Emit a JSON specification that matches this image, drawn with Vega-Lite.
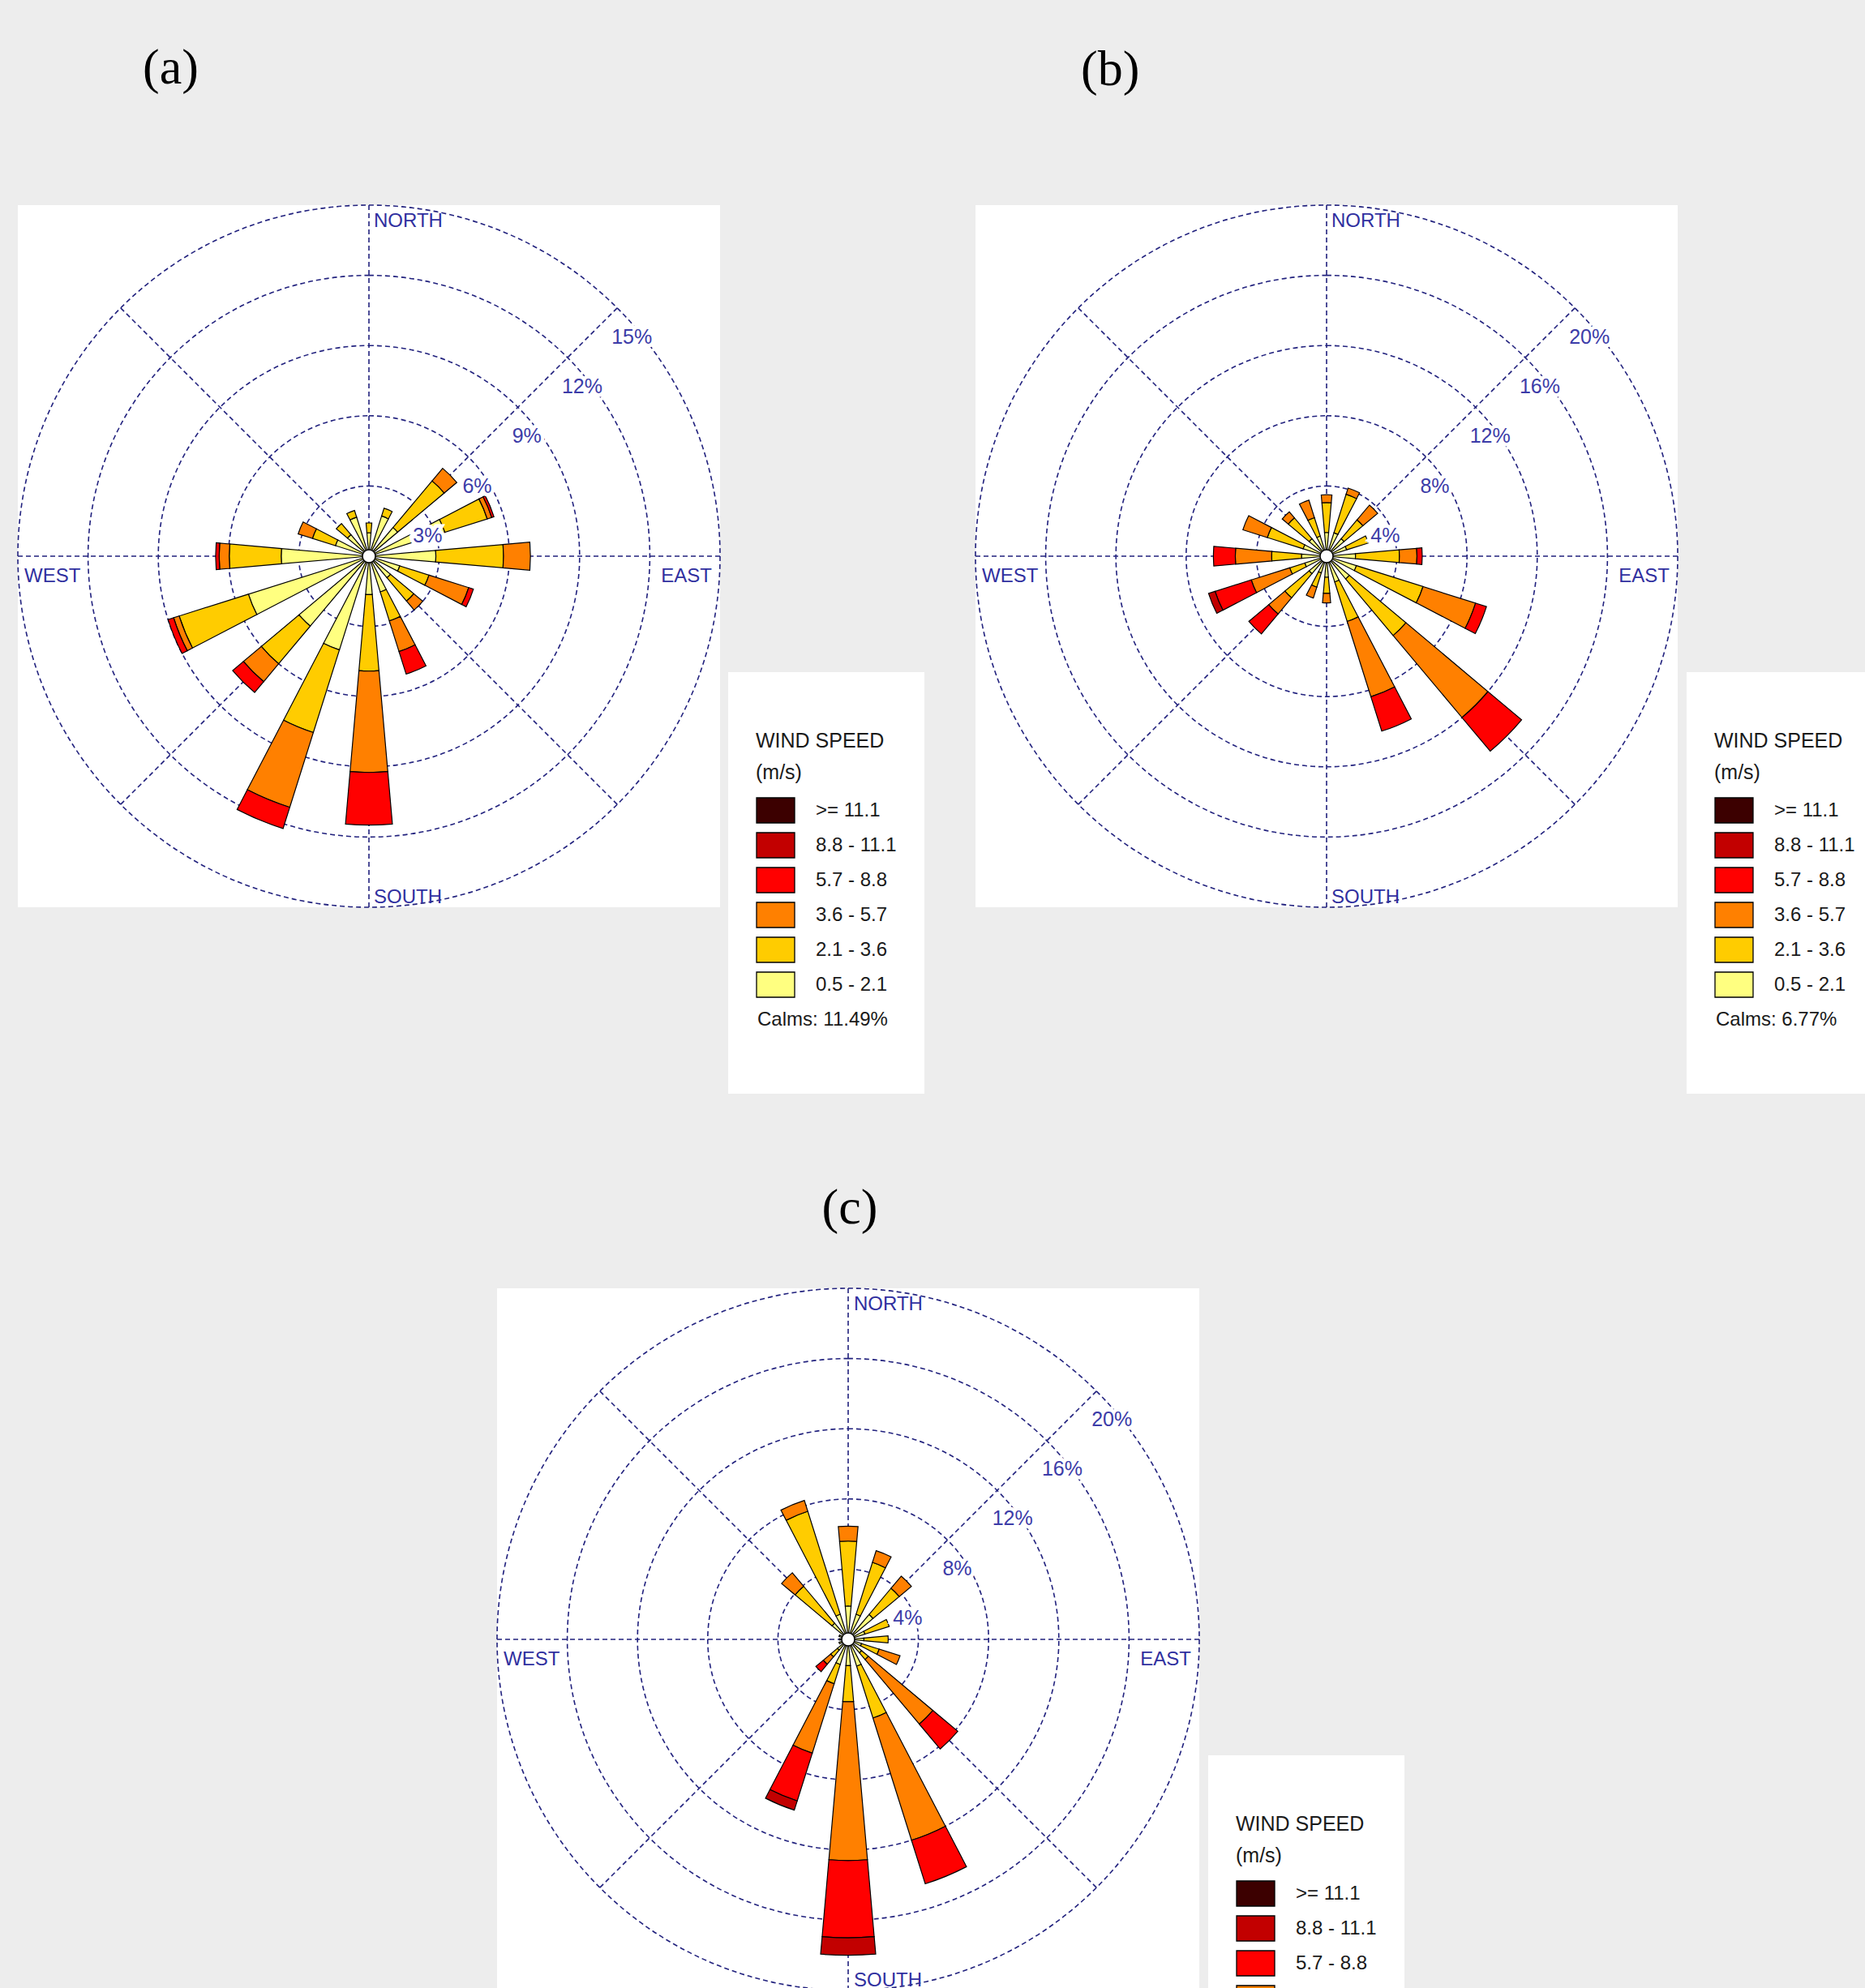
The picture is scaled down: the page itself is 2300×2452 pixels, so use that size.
{
"$schema": "https://vega.github.io/schema/vega-lite/v6.json",
"background": "#ededed",
"padding": {"left": 18, "top": 52, "right": 4, "bottom": 4},
"bounds": "flush",
"spacing": 1336,
"datasets": {
"spokes": [{"d":0},{"d":45},{"d":90},{"d":135},{"d":180},{"d":225},{"d":270},{"d":315}],
"rings": [
{"p":"a","ring":3,"lab":"3%"},{"p":"a","ring":6,"lab":"6%"},{"p":"a","ring":9,"lab":"9%"},{"p":"a","ring":12,"lab":"12%"},{"p":"a","ring":15,"lab":"15%"},
{"p":"b","ring":4,"lab":"4%"},{"p":"b","ring":8,"lab":"8%"},{"p":"b","ring":12,"lab":"12%"},{"p":"b","ring":16,"lab":"16%"},{"p":"b","ring":20,"lab":"20%"},
{"p":"c","ring":4,"lab":"4%"},{"p":"c","ring":8,"lab":"8%"},{"p":"c","ring":12,"lab":"12%"},{"p":"c","ring":16,"lab":"16%"},{"p":"c","ring":20,"lab":"20%"}],
"bars": [
{"p":"a","d":0,"s":"0.5 - 2.1","lo":0,"hi":1.0},{"p":"a","d":0,"s":"2.1 - 3.6","lo":1.0,"hi":1.42},
{"p":"a","d":22.5,"s":"0.5 - 2.1","lo":0,"hi":1.8},{"p":"a","d":22.5,"s":"2.1 - 3.6","lo":1.8,"hi":2.15},
{"p":"a","d":45,"s":"0.5 - 2.1","lo":0,"hi":1.6},{"p":"a","d":45,"s":"2.1 - 3.6","lo":1.6,"hi":4.2},{"p":"a","d":45,"s":"3.6 - 5.7","lo":4.2,"hi":4.9},
{"p":"a","d":67.5,"s":"0.5 - 2.1","lo":0,"hi":3.4},{"p":"a","d":67.5,"s":"2.1 - 3.6","lo":3.4,"hi":5.3},{"p":"a","d":67.5,"s":"3.6 - 5.7","lo":5.3,"hi":5.5},{"p":"a","d":67.5,"s":"5.7 - 8.8","lo":5.5,"hi":5.6},
{"p":"a","d":90,"s":"0.5 - 2.1","lo":0,"hi":2.86},{"p":"a","d":90,"s":"2.1 - 3.6","lo":2.86,"hi":5.75},{"p":"a","d":90,"s":"3.6 - 5.7","lo":5.75,"hi":6.9},
{"p":"a","d":112.5,"s":"0.5 - 2.1","lo":0,"hi":1.38},{"p":"a","d":112.5,"s":"2.1 - 3.6","lo":1.38,"hi":2.69},{"p":"a","d":112.5,"s":"3.6 - 5.7","lo":2.69,"hi":4.47},{"p":"a","d":112.5,"s":"5.7 - 8.8","lo":4.47,"hi":4.68},
{"p":"a","d":135,"s":"0.5 - 2.1","lo":0,"hi":1.2},{"p":"a","d":135,"s":"2.1 - 3.6","lo":1.2,"hi":2.5},{"p":"a","d":135,"s":"3.6 - 5.7","lo":2.5,"hi":3.0},
{"p":"a","d":157.5,"s":"0.5 - 2.1","lo":0,"hi":1.6},{"p":"a","d":157.5,"s":"2.1 - 3.6","lo":1.6,"hi":2.9},{"p":"a","d":157.5,"s":"3.6 - 5.7","lo":2.9,"hi":4.27},{"p":"a","d":157.5,"s":"5.7 - 8.8","lo":4.27,"hi":5.28},
{"p":"a","d":180,"s":"0.5 - 2.1","lo":0,"hi":1.64},{"p":"a","d":180,"s":"2.1 - 3.6","lo":1.64,"hi":4.91},{"p":"a","d":180,"s":"3.6 - 5.7","lo":4.91,"hi":9.24},{"p":"a","d":180,"s":"5.7 - 8.8","lo":9.24,"hi":11.49},
{"p":"a","d":202.5,"s":"0.5 - 2.1","lo":0,"hi":4.2},{"p":"a","d":202.5,"s":"2.1 - 3.6","lo":4.2,"hi":7.9},{"p":"a","d":202.5,"s":"3.6 - 5.7","lo":7.9,"hi":11.25},{"p":"a","d":202.5,"s":"5.7 - 8.8","lo":11.25,"hi":12.2},
{"p":"a","d":225,"s":"0.5 - 2.1","lo":0,"hi":3.9},{"p":"a","d":225,"s":"2.1 - 3.6","lo":3.9,"hi":6.0},{"p":"a","d":225,"s":"3.6 - 5.7","lo":6.0,"hi":7.0},{"p":"a","d":225,"s":"5.7 - 8.8","lo":7.0,"hi":7.6},
{"p":"a","d":247.5,"s":"0.5 - 2.1","lo":0,"hi":5.4},{"p":"a","d":247.5,"s":"2.1 - 3.6","lo":5.4,"hi":8.5},{"p":"a","d":247.5,"s":"3.6 - 5.7","lo":8.5,"hi":8.75},{"p":"a","d":247.5,"s":"5.7 - 8.8","lo":8.75,"hi":9.0},
{"p":"a","d":270,"s":"0.5 - 2.1","lo":0,"hi":3.75},{"p":"a","d":270,"s":"2.1 - 3.6","lo":3.75,"hi":5.97},{"p":"a","d":270,"s":"3.6 - 5.7","lo":5.97,"hi":6.4},{"p":"a","d":270,"s":"5.7 - 8.8","lo":6.4,"hi":6.55},
{"p":"a","d":292.5,"s":"0.5 - 2.1","lo":0,"hi":1.5},{"p":"a","d":292.5,"s":"2.1 - 3.6","lo":1.5,"hi":2.53},{"p":"a","d":292.5,"s":"3.6 - 5.7","lo":2.53,"hi":3.17},
{"p":"a","d":315,"s":"0.5 - 2.1","lo":0,"hi":1.2},{"p":"a","d":315,"s":"2.1 - 3.6","lo":1.2,"hi":1.82},
{"p":"a","d":337.5,"s":"0.5 - 2.1","lo":0,"hi":1.75},{"p":"a","d":337.5,"s":"2.1 - 3.6","lo":1.75,"hi":2.05},
{"p":"b","d":0,"s":"0.5 - 2.1","lo":0,"hi":1.35},{"p":"b","d":0,"s":"2.1 - 3.6","lo":1.35,"hi":3.05},{"p":"b","d":0,"s":"3.6 - 5.7","lo":3.05,"hi":3.5},
{"p":"b","d":22.5,"s":"0.5 - 2.1","lo":0,"hi":1.4},{"p":"b","d":22.5,"s":"2.1 - 3.6","lo":1.4,"hi":3.7},{"p":"b","d":22.5,"s":"3.6 - 5.7","lo":3.7,"hi":4.07},
{"p":"b","d":45,"s":"0.5 - 2.1","lo":0,"hi":1.3},{"p":"b","d":45,"s":"2.1 - 3.6","lo":1.3,"hi":2.7},{"p":"b","d":45,"s":"3.6 - 5.7","lo":2.7,"hi":3.8},
{"p":"b","d":67.5,"s":"0.5 - 2.1","lo":0,"hi":1.2},{"p":"b","d":67.5,"s":"2.1 - 3.6","lo":1.2,"hi":2.5},
{"p":"b","d":90,"s":"0.5 - 2.1","lo":0,"hi":1.65},{"p":"b","d":90,"s":"2.1 - 3.6","lo":1.65,"hi":4.15},{"p":"b","d":90,"s":"3.6 - 5.7","lo":4.15,"hi":5.15},{"p":"b","d":90,"s":"5.7 - 8.8","lo":5.15,"hi":5.45},
{"p":"b","d":112.5,"s":"0.5 - 2.1","lo":0,"hi":1.78},{"p":"b","d":112.5,"s":"2.1 - 3.6","lo":1.78,"hi":5.76},{"p":"b","d":112.5,"s":"3.6 - 5.7","lo":5.76,"hi":8.9},{"p":"b","d":112.5,"s":"5.7 - 8.8","lo":8.9,"hi":9.55},
{"p":"b","d":135,"s":"0.5 - 2.1","lo":0,"hi":1.69},{"p":"b","d":135,"s":"2.1 - 3.6","lo":1.69,"hi":5.9},{"p":"b","d":135,"s":"3.6 - 5.7","lo":5.9,"hi":12.0},{"p":"b","d":135,"s":"5.7 - 8.8","lo":12.0,"hi":14.5},
{"p":"b","d":157.5,"s":"0.5 - 2.1","lo":0,"hi":1.54},{"p":"b","d":157.5,"s":"2.1 - 3.6","lo":1.54,"hi":3.9},{"p":"b","d":157.5,"s":"3.6 - 5.7","lo":3.9,"hi":8.4},{"p":"b","d":157.5,"s":"5.7 - 8.8","lo":8.4,"hi":10.45},
{"p":"b","d":180,"s":"0.5 - 2.1","lo":0,"hi":1.2},{"p":"b","d":180,"s":"2.1 - 3.6","lo":1.2,"hi":2.12},{"p":"b","d":180,"s":"3.6 - 5.7","lo":2.12,"hi":2.66},
{"p":"b","d":202.5,"s":"0.5 - 2.1","lo":0,"hi":1.0},{"p":"b","d":202.5,"s":"2.1 - 3.6","lo":1.0,"hi":1.85},{"p":"b","d":202.5,"s":"3.6 - 5.7","lo":1.85,"hi":2.5},
{"p":"b","d":225,"s":"0.5 - 2.1","lo":0,"hi":1.3},{"p":"b","d":225,"s":"2.1 - 3.6","lo":1.3,"hi":3.1},{"p":"b","d":225,"s":"3.6 - 5.7","lo":3.1,"hi":4.3},{"p":"b","d":225,"s":"5.7 - 8.8","lo":4.3,"hi":5.78},
{"p":"b","d":247.5,"s":"0.5 - 2.1","lo":0,"hi":1.3},{"p":"b","d":247.5,"s":"2.1 - 3.6","lo":1.3,"hi":2.2},{"p":"b","d":247.5,"s":"3.6 - 5.7","lo":2.2,"hi":4.5},{"p":"b","d":247.5,"s":"5.7 - 8.8","lo":4.5,"hi":6.66},{"p":"b","d":247.5,"s":"8.8 - 11.1","lo":6.66,"hi":7.05},
{"p":"b","d":270,"s":"0.5 - 2.1","lo":0,"hi":1.43},{"p":"b","d":270,"s":"2.1 - 3.6","lo":1.43,"hi":3.13},{"p":"b","d":270,"s":"3.6 - 5.7","lo":3.13,"hi":5.2},{"p":"b","d":270,"s":"5.7 - 8.8","lo":5.2,"hi":6.45},
{"p":"b","d":292.5,"s":"0.5 - 2.1","lo":0,"hi":1.4},{"p":"b","d":292.5,"s":"2.1 - 3.6","lo":1.4,"hi":3.54},{"p":"b","d":292.5,"s":"3.6 - 5.7","lo":3.54,"hi":5.0},
{"p":"b","d":315,"s":"0.5 - 2.1","lo":0,"hi":1.3},{"p":"b","d":315,"s":"2.1 - 3.6","lo":1.3,"hi":2.85},{"p":"b","d":315,"s":"3.6 - 5.7","lo":2.85,"hi":3.3},
{"p":"b","d":337.5,"s":"0.5 - 2.1","lo":0,"hi":1.2},{"p":"b","d":337.5,"s":"2.1 - 3.6","lo":1.2,"hi":2.3},{"p":"b","d":337.5,"s":"3.6 - 5.7","lo":2.3,"hi":3.35},
{"p":"c","d":0,"s":"0.5 - 2.1","lo":0,"hi":1.9},{"p":"c","d":0,"s":"2.1 - 3.6","lo":1.9,"hi":5.6},{"p":"c","d":0,"s":"3.6 - 5.7","lo":5.6,"hi":6.45},
{"p":"c","d":22.5,"s":"0.5 - 2.1","lo":0,"hi":1.5},{"p":"c","d":22.5,"s":"2.1 - 3.6","lo":1.5,"hi":4.6},{"p":"c","d":22.5,"s":"3.6 - 5.7","lo":4.6,"hi":5.3},
{"p":"c","d":45,"s":"0.5 - 2.1","lo":0,"hi":1.85},{"p":"c","d":45,"s":"2.1 - 3.6","lo":1.85,"hi":3.8},{"p":"c","d":45,"s":"3.6 - 5.7","lo":3.8,"hi":4.7},
{"p":"c","d":67.5,"s":"0.5 - 2.1","lo":0,"hi":1.0},{"p":"c","d":67.5,"s":"2.1 - 3.6","lo":1.0,"hi":2.45},
{"p":"c","d":90,"s":"0.5 - 2.1","lo":0,"hi":0.9},{"p":"c","d":90,"s":"2.1 - 3.6","lo":0.9,"hi":2.28},
{"p":"c","d":112.5,"s":"0.5 - 2.1","lo":0,"hi":0.8},{"p":"c","d":112.5,"s":"2.1 - 3.6","lo":0.8,"hi":1.85},{"p":"c","d":112.5,"s":"3.6 - 5.7","lo":1.85,"hi":3.1},
{"p":"c","d":135,"s":"0.5 - 2.1","lo":0,"hi":1.0},{"p":"c","d":135,"s":"2.1 - 3.6","lo":1.0,"hi":1.5},{"p":"c","d":135,"s":"3.6 - 5.7","lo":1.5,"hi":6.3},{"p":"c","d":135,"s":"5.7 - 8.8","lo":6.3,"hi":8.15},
{"p":"c","d":157.5,"s":"0.5 - 2.1","lo":0,"hi":1.6},{"p":"c","d":157.5,"s":"2.1 - 3.6","lo":1.6,"hi":4.7},{"p":"c","d":157.5,"s":"3.6 - 5.7","lo":4.7,"hi":12.0},{"p":"c","d":157.5,"s":"5.7 - 8.8","lo":12.0,"hi":14.6},
{"p":"c","d":180,"s":"0.5 - 2.1","lo":0,"hi":1.5},{"p":"c","d":180,"s":"2.1 - 3.6","lo":1.5,"hi":3.55},{"p":"c","d":180,"s":"3.6 - 5.7","lo":3.55,"hi":12.6},{"p":"c","d":180,"s":"5.7 - 8.8","lo":12.6,"hi":17.0},{"p":"c","d":180,"s":"8.8 - 11.1","lo":17.0,"hi":18.0},
{"p":"c","d":202.5,"s":"0.5 - 2.1","lo":0,"hi":1.5},{"p":"c","d":202.5,"s":"2.1 - 3.6","lo":1.5,"hi":2.65},{"p":"c","d":202.5,"s":"3.6 - 5.7","lo":2.65,"hi":6.8},{"p":"c","d":202.5,"s":"5.7 - 8.8","lo":6.8,"hi":9.65},{"p":"c","d":202.5,"s":"8.8 - 11.1","lo":9.65,"hi":10.2},
{"p":"c","d":225,"s":"0.5 - 2.1","lo":0,"hi":0.8},{"p":"c","d":225,"s":"2.1 - 3.6","lo":0.8,"hi":1.3},{"p":"c","d":225,"s":"3.6 - 5.7","lo":1.3,"hi":1.85},{"p":"c","d":225,"s":"5.7 - 8.8","lo":1.85,"hi":2.4},
{"p":"c","d":247.5,"s":"0.5 - 2.1","lo":0,"hi":0.55},
{"p":"c","d":270,"s":"0.5 - 2.1","lo":0,"hi":0.5},
{"p":"c","d":292.5,"s":"0.5 - 2.1","lo":0,"hi":0.55},
{"p":"c","d":315,"s":"0.5 - 2.1","lo":0,"hi":1.2},{"p":"c","d":315,"s":"2.1 - 3.6","lo":1.2,"hi":3.95},{"p":"c","d":315,"s":"3.6 - 5.7","lo":3.95,"hi":4.95},
{"p":"c","d":337.5,"s":"0.5 - 2.1","lo":0,"hi":1.5},{"p":"c","d":337.5,"s":"2.1 - 3.6","lo":1.5,"hi":7.65},{"p":"c","d":337.5,"s":"3.6 - 5.7","lo":7.65,"hi":8.3}
]
},
"vconcat": [
{
"hconcat": [
{
"width": 866, "height": 866,
"view": {"fill": "white", "stroke": null},
"title": {"text": "(a)", "anchor": "start", "dx": 154, "offset": 134, "baseline": "top", "font": "Liberation Serif", "fontSize": 62, "fontWeight": "normal", "color": "#000000", "frame": "group"},
"layer": [
{"data": {"name": "rings"}, "transform": [{"filter": "datum.p == 'a'"}],
 "mark": {"type": "arc", "filled": false, "stroke": "#22227e", "strokeWidth": 1.6, "strokeDash": [6, 4]},
 "encoding": {"theta": {"value": 0}, "theta2": {"value": 6.2832}, "radius": {"field": "ring", "type": "quantitative", "stack": null, "scale": {"type": "linear", "domain": [0, 15], "range": [0, 433], "zero": true, "nice": false}}}},
{"data": {"name": "spokes"},
 "mark": {"type": "arc", "filled": false, "stroke": "#22227e", "strokeWidth": 1.6, "strokeDash": [6, 4]},
 "encoding": {"theta": {"field": "d", "type": "quantitative", "stack": null, "scale": {"type": "linear", "domain": [0, 360], "range": [0, 6.283185307], "zero": true, "nice": false}}, "theta2": {"field": "d"}, "radius": {"datum": 15, "type": "quantitative", "scale": {"type": "linear", "domain": [0, 15], "range": [0, 433], "zero": true, "nice": false}}}},
{"data": {"name": "bars"}, "transform": [{"filter": "datum.p == 'a'"}],
 "mark": {"type": "arc", "stroke": "#000000", "strokeWidth": 1.2, "thetaOffset": -0.0873, "theta2Offset": 0.0873},
 "encoding": {
  "theta": {"field": "d", "type": "quantitative", "stack": null, "scale": {"type": "linear", "domain": [0, 360], "range": [0, 6.283185307], "zero": true, "nice": false}},
  "theta2": {"field": "d"},
  "radius": {"field": "hi", "type": "quantitative", "stack": null, "scale": {"type": "linear", "domain": [0, 15], "range": [0, 433], "zero": true, "nice": false}},
  "radius2": {"field": "lo"},
  "color": {"field": "s", "type": "nominal",
   "scale": {"domain": [">= 11.1", "8.8 - 11.1", "5.7 - 8.8", "3.6 - 5.7", "2.1 - 3.6", "0.5 - 2.1", "Calms: 11.49%", " "], "range": ["#3c0000", "#c20000", "#ff0000", "#ff8000", "#ffcc00", "#ffff80", "#ffffff", "#ffffff"]},
   "legend": {"legendX": 876, "legendY": 576, "title": ["", "WIND SPEED", "(m/s)"],
    "encode": {"symbols": {"update": {"strokeOpacity": {"signal": "datum.index >= 6 ? 0 : 1"}}}, "labels": {"update": {"dx": {"signal": "datum.index == 6 ? -72 : 0"}}}}}}
 }},
{"data": {"values": [{}]}, "mark": {"type": "arc", "fill": "#ffffff", "stroke": "#000000", "strokeWidth": 1.5},
 "encoding": {"theta": {"value": 0}, "theta2": {"value": 6.2832}, "radius": {"value": 8}}},
{"data": {"name": "rings"}, "transform": [{"filter": "datum.p == 'a'"}],
 "mark": {"type": "text", "align": "left", "baseline": "middle", "dx": -7, "dy": 36, "font": "Liberation Sans", "fontSize": 25, "color": "#ffffff", "stroke": "#ffffff", "strokeWidth": 9},
 "encoding": {"theta": {"datum": 45, "type": "quantitative", "scale": {"type": "linear", "domain": [0, 360], "range": [0, 6.283185307], "zero": true, "nice": false}}, "radius": {"field": "ring", "type": "quantitative", "stack": null, "scale": {"type": "linear", "domain": [0, 15], "range": [0, 433], "zero": true, "nice": false}}, "text": {"field": "lab"}}},
{"data": {"name": "rings"}, "transform": [{"filter": "datum.p == 'a'"}],
 "mark": {"type": "text", "align": "left", "baseline": "middle", "dx": -7, "dy": 36, "font": "Liberation Sans", "fontSize": 25, "color": "#3c3ca8"},
 "encoding": {"theta": {"datum": 45, "type": "quantitative", "scale": {"type": "linear", "domain": [0, 360], "range": [0, 6.283185307], "zero": true, "nice": false}}, "radius": {"field": "ring", "type": "quantitative", "stack": null, "scale": {"type": "linear", "domain": [0, 15], "range": [0, 433], "zero": true, "nice": false}}, "text": {"field": "lab"}}},
{"data": {"values": [{}]},
 "mark": {"type": "text", "align": "left", "baseline": "top", "dx": 6, "dy": 8, "font": "Liberation Sans", "fontSize": 24, "color": "#3030a0"},
 "encoding": {"theta": {"datum": 0, "type": "quantitative"}, "radius": {"datum": 15, "type": "quantitative"}, "text": {"value": "NORTH"}}},
{"data": {"values": [{}]},
 "mark": {"type": "text", "align": "left", "baseline": "alphabetic", "dx": 6, "dy": -5, "font": "Liberation Sans", "fontSize": 24, "color": "#3030a0"},
 "encoding": {"theta": {"datum": 180, "type": "quantitative"}, "radius": {"datum": 15, "type": "quantitative"}, "text": {"value": "SOUTH"}}},
{"data": {"values": [{}]},
 "mark": {"type": "text", "align": "left", "baseline": "alphabetic", "dx": 8, "dy": 32, "font": "Liberation Sans", "fontSize": 24, "color": "#3030a0"},
 "encoding": {"theta": {"datum": 270, "type": "quantitative"}, "radius": {"datum": 15, "type": "quantitative"}, "text": {"value": "WEST"}}},
{"data": {"values": [{}]},
 "mark": {"type": "text", "align": "right", "baseline": "alphabetic", "dx": -10, "dy": 32, "font": "Liberation Sans", "fontSize": 24, "color": "#3030a0"},
 "encoding": {"theta": {"datum": 90, "type": "quantitative"}, "radius": {"datum": 15, "type": "quantitative"}, "text": {"value": "EAST"}}}
]
},
{
"width": 866, "height": 866,
"view": {"fill": "white", "stroke": null},
"title": {"text": "(b)", "anchor": "start", "dx": 130, "offset": 132, "baseline": "top", "font": "Liberation Serif", "fontSize": 62, "fontWeight": "normal", "color": "#000000", "frame": "group"},
"layer": [
{"data": {"name": "rings"}, "transform": [{"filter": "datum.p == 'b'"}],
 "mark": {"type": "arc", "filled": false, "stroke": "#22227e", "strokeWidth": 1.6, "strokeDash": [6, 4]},
 "encoding": {"theta": {"value": 0}, "theta2": {"value": 6.2832}, "radius": {"field": "ring", "type": "quantitative", "stack": null, "scale": {"type": "linear", "domain": [0, 20], "range": [0, 433], "zero": true, "nice": false}}}},
{"data": {"name": "spokes"},
 "mark": {"type": "arc", "filled": false, "stroke": "#22227e", "strokeWidth": 1.6, "strokeDash": [6, 4]},
 "encoding": {"theta": {"field": "d", "type": "quantitative", "stack": null, "scale": {"type": "linear", "domain": [0, 360], "range": [0, 6.283185307], "zero": true, "nice": false}}, "theta2": {"field": "d"}, "radius": {"datum": 20, "type": "quantitative", "scale": {"type": "linear", "domain": [0, 20], "range": [0, 433], "zero": true, "nice": false}}}},
{"data": {"name": "bars"}, "transform": [{"filter": "datum.p == 'b'"}],
 "mark": {"type": "arc", "stroke": "#000000", "strokeWidth": 1.2, "thetaOffset": -0.0873, "theta2Offset": 0.0873},
 "encoding": {
  "theta": {"field": "d", "type": "quantitative", "stack": null, "scale": {"type": "linear", "domain": [0, 360], "range": [0, 6.283185307], "zero": true, "nice": false}},
  "theta2": {"field": "d"},
  "radius": {"field": "hi", "type": "quantitative", "stack": null, "scale": {"type": "linear", "domain": [0, 20], "range": [0, 433], "zero": true, "nice": false}},
  "radius2": {"field": "lo"},
  "color": {"field": "s", "type": "nominal",
   "scale": {"domain": [">= 11.1", "8.8 - 11.1", "5.7 - 8.8", "3.6 - 5.7", "2.1 - 3.6", "0.5 - 2.1", "Calms: 6.77%", " "], "range": ["#3c0000", "#c20000", "#ff0000", "#ff8000", "#ffcc00", "#ffff80", "#ffffff", "#ffffff"]},
   "legend": {"legendX": 877, "legendY": 576, "title": ["", "WIND SPEED", "(m/s)"],
    "encode": {"symbols": {"update": {"strokeOpacity": {"signal": "datum.index >= 6 ? 0 : 1"}}}, "labels": {"update": {"dx": {"signal": "datum.index == 6 ? -72 : 0"}}}}}}
 }},
{"data": {"values": [{}]}, "mark": {"type": "arc", "fill": "#ffffff", "stroke": "#000000", "strokeWidth": 1.5},
 "encoding": {"theta": {"value": 0}, "theta2": {"value": 6.2832}, "radius": {"value": 8}}},
{"data": {"name": "rings"}, "transform": [{"filter": "datum.p == 'b'"}],
 "mark": {"type": "text", "align": "left", "baseline": "middle", "dx": -7, "dy": 36, "font": "Liberation Sans", "fontSize": 25, "color": "#ffffff", "stroke": "#ffffff", "strokeWidth": 9},
 "encoding": {"theta": {"datum": 45, "type": "quantitative", "scale": {"type": "linear", "domain": [0, 360], "range": [0, 6.283185307], "zero": true, "nice": false}}, "radius": {"field": "ring", "type": "quantitative", "stack": null, "scale": {"type": "linear", "domain": [0, 20], "range": [0, 433], "zero": true, "nice": false}}, "text": {"field": "lab"}}},
{"data": {"name": "rings"}, "transform": [{"filter": "datum.p == 'b'"}],
 "mark": {"type": "text", "align": "left", "baseline": "middle", "dx": -7, "dy": 36, "font": "Liberation Sans", "fontSize": 25, "color": "#3c3ca8"},
 "encoding": {"theta": {"datum": 45, "type": "quantitative", "scale": {"type": "linear", "domain": [0, 360], "range": [0, 6.283185307], "zero": true, "nice": false}}, "radius": {"field": "ring", "type": "quantitative", "stack": null, "scale": {"type": "linear", "domain": [0, 20], "range": [0, 433], "zero": true, "nice": false}}, "text": {"field": "lab"}}},
{"data": {"values": [{}]},
 "mark": {"type": "text", "align": "left", "baseline": "top", "dx": 6, "dy": 8, "font": "Liberation Sans", "fontSize": 24, "color": "#3030a0"},
 "encoding": {"theta": {"datum": 0, "type": "quantitative"}, "radius": {"datum": 20, "type": "quantitative"}, "text": {"value": "NORTH"}}},
{"data": {"values": [{}]},
 "mark": {"type": "text", "align": "left", "baseline": "alphabetic", "dx": 6, "dy": -5, "font": "Liberation Sans", "fontSize": 24, "color": "#3030a0"},
 "encoding": {"theta": {"datum": 180, "type": "quantitative"}, "radius": {"datum": 20, "type": "quantitative"}, "text": {"value": "SOUTH"}}},
{"data": {"values": [{}]},
 "mark": {"type": "text", "align": "left", "baseline": "alphabetic", "dx": 8, "dy": 32, "font": "Liberation Sans", "fontSize": 24, "color": "#3030a0"},
 "encoding": {"theta": {"datum": 270, "type": "quantitative"}, "radius": {"datum": 20, "type": "quantitative"}, "text": {"value": "WEST"}}},
{"data": {"values": [{}]},
 "mark": {"type": "text", "align": "right", "baseline": "alphabetic", "dx": -10, "dy": 32, "font": "Liberation Sans", "fontSize": 24, "color": "#3030a0"},
 "encoding": {"theta": {"datum": 90, "type": "quantitative"}, "radius": {"datum": 20, "type": "quantitative"}, "text": {"value": "EAST"}}}
]
}
],
"spacing": 315,
"bounds": "flush",
"resolve": {"scale": {"color": "independent", "radius": "independent", "theta": "independent"}, "legend": {"color": "independent"}}
},
{
"width": 2048, "height": 866,
"view": {"stroke": null},
"title": {"text": "(c)", "anchor": "middle", "dx": 2, "offset": 64, "baseline": "top", "font": "Liberation Serif", "fontSize": 62, "fontWeight": "normal", "color": "#000000", "frame": "group"},
"layer": [
{"data": {"values": [{}]}, "mark": {"type": "point", "shape": "square", "filled": true, "fill": "#ffffff", "stroke": null, "size": 749956, "opacity": 1}},
{"data": {"name": "rings"}, "transform": [{"filter": "datum.p == 'c'"}],
 "mark": {"type": "arc", "filled": false, "stroke": "#22227e", "strokeWidth": 1.6, "strokeDash": [6, 4]},
 "encoding": {"theta": {"value": 0}, "theta2": {"value": 6.2832}, "radius": {"field": "ring", "type": "quantitative", "stack": null, "scale": {"type": "linear", "domain": [0, 20], "range": [0, 433], "zero": true, "nice": false}}}},
{"data": {"name": "spokes"},
 "mark": {"type": "arc", "filled": false, "stroke": "#22227e", "strokeWidth": 1.6, "strokeDash": [6, 4]},
 "encoding": {"theta": {"field": "d", "type": "quantitative", "stack": null, "scale": {"type": "linear", "domain": [0, 360], "range": [0, 6.283185307], "zero": true, "nice": false}}, "theta2": {"field": "d"}, "radius": {"datum": 20, "type": "quantitative", "scale": {"type": "linear", "domain": [0, 20], "range": [0, 433], "zero": true, "nice": false}}}},
{"data": {"name": "bars"}, "transform": [{"filter": "datum.p == 'c'"}],
 "mark": {"type": "arc", "stroke": "#000000", "strokeWidth": 1.2, "thetaOffset": -0.0873, "theta2Offset": 0.0873},
 "encoding": {
  "theta": {"field": "d", "type": "quantitative", "stack": null, "scale": {"type": "linear", "domain": [0, 360], "range": [0, 6.283185307], "zero": true, "nice": false}},
  "theta2": {"field": "d"},
  "radius": {"field": "hi", "type": "quantitative", "stack": null, "scale": {"type": "linear", "domain": [0, 20], "range": [0, 433], "zero": true, "nice": false}},
  "radius2": {"field": "lo"},
  "color": {"field": "s", "type": "nominal",
   "scale": {"domain": [">= 11.1", "8.8 - 11.1", "5.7 - 8.8", "3.6 - 5.7", "2.1 - 3.6", "0.5 - 2.1"], "range": ["#3c0000", "#c20000", "#ff0000", "#ff8000", "#ffcc00", "#ffff80"]},
   "legend": {"legendX": 1468, "legendY": 576, "title": ["", "WIND SPEED", "(m/s)"]}}
 }},
{"data": {"values": [{}]}, "mark": {"type": "arc", "fill": "#ffffff", "stroke": "#000000", "strokeWidth": 1.5},
 "encoding": {"theta": {"value": 0}, "theta2": {"value": 6.2832}, "radius": {"value": 8}}},
{"data": {"name": "rings"}, "transform": [{"filter": "datum.p == 'c'"}],
 "mark": {"type": "text", "align": "left", "baseline": "middle", "dx": -6, "dy": 35, "font": "Liberation Sans", "fontSize": 25, "color": "#ffffff", "stroke": "#ffffff", "strokeWidth": 9},
 "encoding": {"theta": {"datum": 45, "type": "quantitative", "scale": {"type": "linear", "domain": [0, 360], "range": [0, 6.283185307], "zero": true, "nice": false}}, "radius": {"field": "ring", "type": "quantitative", "stack": null, "scale": {"type": "linear", "domain": [0, 20], "range": [0, 433], "zero": true, "nice": false}}, "text": {"field": "lab"}}},
{"data": {"name": "rings"}, "transform": [{"filter": "datum.p == 'c'"}],
 "mark": {"type": "text", "align": "left", "baseline": "middle", "dx": -6, "dy": 35, "font": "Liberation Sans", "fontSize": 25, "color": "#3c3ca8"},
 "encoding": {"theta": {"datum": 45, "type": "quantitative", "scale": {"type": "linear", "domain": [0, 360], "range": [0, 6.283185307], "zero": true, "nice": false}}, "radius": {"field": "ring", "type": "quantitative", "stack": null, "scale": {"type": "linear", "domain": [0, 20], "range": [0, 433], "zero": true, "nice": false}}, "text": {"field": "lab"}}},
{"data": {"values": [{}]},
 "mark": {"type": "text", "align": "left", "baseline": "top", "dx": 7, "dy": 8, "font": "Liberation Sans", "fontSize": 24, "color": "#3030a0"},
 "encoding": {"theta": {"datum": 0, "type": "quantitative"}, "radius": {"datum": 20, "type": "quantitative"}, "text": {"value": "NORTH"}}},
{"data": {"values": [{}]},
 "mark": {"type": "text", "align": "left", "baseline": "alphabetic", "dx": 7, "dy": -5, "font": "Liberation Sans", "fontSize": 24, "color": "#3030a0"},
 "encoding": {"theta": {"datum": 180, "type": "quantitative"}, "radius": {"datum": 20, "type": "quantitative"}, "text": {"value": "SOUTH"}}},
{"data": {"values": [{}]},
 "mark": {"type": "text", "align": "left", "baseline": "alphabetic", "dx": 8, "dy": 32, "font": "Liberation Sans", "fontSize": 24, "color": "#3030a0"},
 "encoding": {"theta": {"datum": 270, "type": "quantitative"}, "radius": {"datum": 20, "type": "quantitative"}, "text": {"value": "WEST"}}},
{"data": {"values": [{}]},
 "mark": {"type": "text", "align": "right", "baseline": "alphabetic", "dx": -10, "dy": 32, "font": "Liberation Sans", "fontSize": 24, "color": "#3030a0"},
 "encoding": {"theta": {"datum": 90, "type": "quantitative"}, "radius": {"datum": 20, "type": "quantitative"}, "text": {"value": "EAST"}}}
]
}
],
"resolve": {"scale": {"color": "independent", "radius": "independent", "theta": "independent"}, "legend": {"color": "independent"}},
"config": {
"view": {"stroke": null},
"legend": {"orient": "none", "symbolType": "M-1,-0.66H1V0.66H-1Z", "symbolSize": 2209, "symbolStrokeColor": "#000000", "symbolStrokeWidth": 1.3, "symbolOpacity": 1,
 "labelFont": "Liberation Sans", "labelFontSize": 24, "labelColor": "#1a1a1a", "labelOffset": 25, "labelLimit": 400,
 "titleFont": "Liberation Sans", "titleFontSize": 25, "titleFontWeight": "normal", "titleColor": "#1a1a1a", "titleLineHeight": 39, "titleBaseline": "top", "titlePadding": 9, "titleLimit": 400,
 "rowPadding": -1, "padding": 34, "fillColor": "#ffffff"}
}
}
